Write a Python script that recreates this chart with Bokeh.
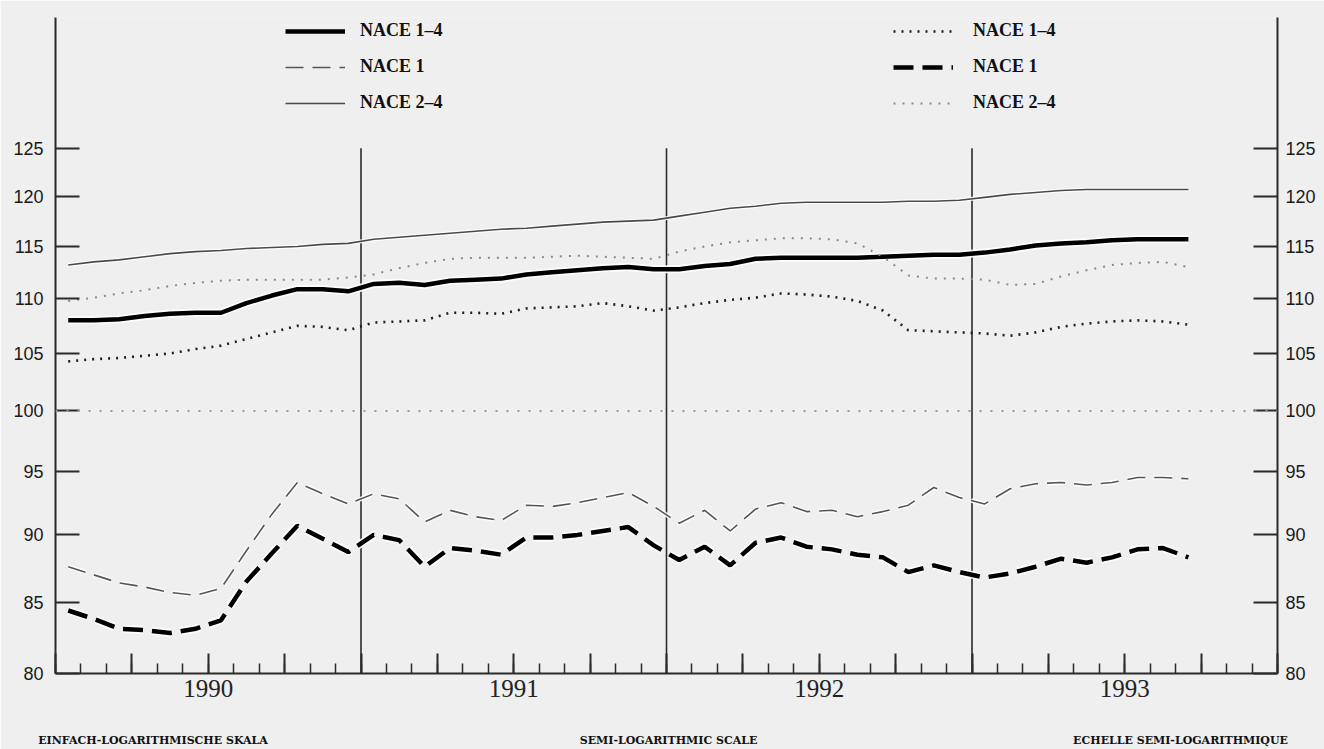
from bokeh.plotting import figure
from bokeh.models import (Range1d, LogAxis, LinearAxis, FixedTicker, Span, Legend, LegendItem)
from bokeh.embed import file_html
from bokeh.resources import INLINE
import numpy as np

# ---------------- data (monthly, Jan 1990 - Sep 1993) ----------------
year_labels = {6: "1990", 18: "1991", 30: "1992", 42: "1993"}
year_bounds = [12, 24, 36]
y_ticks = [80, 85, 90, 95, 100, 105, 110, 115, 120, 125]
captions = ["EINFACH-LOGARITHMISCHE SKALA", "SEMI-LOGARITHMIC SCALE", "ECHELLE SEMI-LOGARITHMIQUE"]
caption_pos = [3.83, 24.08, 44.19]   # caption centres, in months

# left-legend series
nace14_left = [108.0, 108.0, 108.1, 108.4, 108.6, 108.7, 108.7, 109.6, 110.3, 110.9, 110.9, 110.7,
               111.4, 111.5, 111.3, 111.7, 111.8, 111.9, 112.3, 112.5, 112.7, 112.9, 113.0, 112.8,
               112.8, 113.1, 113.3, 113.8, 113.9, 113.9, 113.9, 113.9, 114.0, 114.1, 114.2, 114.2,
               114.4, 114.7, 115.1, 115.3, 115.4, 115.6, 115.7, 115.7, 115.7]
nace1_left = [87.6, 87.0, 86.4, 86.1, 85.7, 85.5, 86.0, 88.8, 91.6, 94.1, 93.2, 92.4,
              93.2, 92.8, 91.0, 91.9, 91.4, 91.1, 92.3, 92.2, 92.5, 92.9, 93.3, 92.2,
              90.9, 91.9, 90.3, 92.0, 92.5, 91.8, 91.9, 91.4, 91.8, 92.3, 93.7, 92.9,
              92.4, 93.6, 94.0, 94.1, 93.9, 94.1, 94.5, 94.5, 94.4]
nace24_left = [113.2, 113.5, 113.7, 114.0, 114.3, 114.5, 114.6, 114.8, 114.9, 115.0, 115.2, 115.3,
               115.7, 115.9, 116.1, 116.3, 116.5, 116.7, 116.8, 117.0, 117.2, 117.4, 117.5, 117.6,
               118.0, 118.4, 118.8, 119.0, 119.3, 119.4, 119.4, 119.4, 119.4, 119.5, 119.5, 119.6,
               119.9, 120.2, 120.4, 120.6, 120.7, 120.7, 120.7, 120.7, 120.7]
# right-legend series
nace14_right = [104.3, 104.5, 104.6, 104.8, 105.0, 105.4, 105.7, 106.3, 106.9, 107.5, 107.4, 107.1,
                107.8, 107.9, 108.0, 108.7, 108.7, 108.6, 109.1, 109.2, 109.3, 109.6, 109.3, 108.9,
                109.2, 109.6, 109.9, 110.1, 110.5, 110.4, 110.2, 109.8, 108.9, 107.1, 107.0, 106.9,
                106.8, 106.6, 106.9, 107.4, 107.7, 107.9, 108.0, 107.9, 107.6]
nace1_right = [84.4, 83.8, 83.1, 83.0, 82.8, 83.1, 83.7, 86.5, 88.6, 90.7, 89.7, 88.7,
               90.0, 89.6, 87.6, 89.0, 88.8, 88.5, 89.8, 89.8, 90.0, 90.3, 90.6, 89.2,
               88.1, 89.1, 87.7, 89.4, 89.8, 89.1, 88.9, 88.5, 88.3, 87.2, 87.7, 87.2,
               86.8, 87.1, 87.6, 88.2, 87.9, 88.3, 88.9, 89.0, 88.3]
nace24_right = [109.8, 110.1, 110.5, 110.8, 111.2, 111.5, 111.7, 111.8, 111.8, 111.8, 111.8, 112.0,
                112.3, 112.9, 113.4, 113.8, 113.9, 113.9, 113.9, 114.0, 114.1, 114.0, 113.9, 113.8,
                114.5, 115.0, 115.4, 115.6, 115.8, 115.8, 115.7, 115.3, 114.0, 112.2, 111.9, 111.9,
                111.8, 111.3, 111.4, 112.1, 112.7, 113.2, 113.4, 113.5, 113.0]

months = np.arange(len(nace14_left)) + 0.5   # mid-month positions, months since Jan 1990

BG = "#efefef"
AX = "#2a2a2a"

p = figure(width=1324, height=749, y_axis_type="log",
           x_range=Range1d(0, 48), y_range=Range1d(80, 139.7),
           output_backend="svg", toolbar_location=None,
           min_border_left=55, min_border_right=47, min_border_top=17, min_border_bottom=76,
           background_fill_color=BG, border_fill_color=BG, outline_line_color=None)
p.xgrid.visible = False
p.ygrid.visible = False

# ---- axes ----
xa = p.xaxis[0]
xa.ticker = FixedTicker(ticks=list(range(0, 49, 3)), minor_ticks=list(range(0, 49)))
xa.major_label_overrides = {t: year_labels.get(t, "") for t in range(0, 49, 3)}
xa.major_tick_in = 20
xa.major_tick_out = 0
xa.minor_tick_in = 10
xa.minor_tick_out = 0
xa.axis_line_width = 2
xa.axis_line_color = AX
xa.major_tick_line_color = AX
xa.minor_tick_line_color = AX
xa.major_tick_line_width = 2
xa.minor_tick_line_width = 1.5
xa.major_label_text_font = "Liberation Serif"
xa.major_label_text_font_size = "25px"
xa.major_label_text_color = "#222"
xa.major_label_standoff = 6

# caption "axis" (labels only) below the year axis
ca = LinearAxis(ticker=FixedTicker(ticks=caption_pos),
                major_label_overrides={pos: txt for pos, txt in zip(caption_pos, captions)},
                axis_line_color=None, major_tick_line_color=None, minor_tick_line_color=None,
                major_label_standoff=28,
                major_label_text_font="DejaVu Serif", major_label_text_font_style="bold",
                major_label_text_font_size="11px", major_label_text_color="#111")
p.add_layout(ca, "below")

def style_y(ax, standoff):
    ax.ticker = FixedTicker(ticks=y_ticks)
    ax.minor_tick_line_color = None
    ax.major_tick_in = 24
    ax.major_tick_out = 0
    ax.axis_line_color = AX
    ax.axis_line_width = 2
    ax.major_tick_line_color = AX
    ax.major_tick_line_width = 2
    ax.major_label_text_font = "Liberation Sans"
    ax.major_label_text_font_size = "18px"
    ax.major_label_text_color = "#1a1a1a"
    ax.major_label_standoff = standoff

style_y(p.yaxis[0], 12)
ra = LogAxis()
style_y(ra, 8)
p.add_layout(ra, "right")

# ---- reference line at 100 and year boundaries ----
p.add_layout(Span(location=100, dimension="width", line_color="#9a9a9a",
                  line_width=2, line_dash="2 9"))
p.segment(x0=year_bounds, x1=year_bounds, y0=[80] * 3, y1=[125] * 3,
          line_color=AX, line_width=1.6)

# ---- white halos (scan look) ----
for ys, w, dash in [(nace24_left, 4, "solid"), (nace14_left, 8, "solid"),
                    (nace1_left, 4.5, "18 9"), (nace1_right, 8, "20 9")]:
    p.line(months, ys, line_color="white", line_width=w, line_dash=dash, line_alpha=0.9)

# ---- series ----
r_a = p.line(months, nace14_left, line_color="#000000", line_width=4.5, line_join="round")
r_b = p.line(months, nace1_left, line_color="#555555", line_width=1.6, line_dash="18 9")
r_c = p.line(months, nace24_left, line_color="#4a4a4a", line_width=1.6)
r_d = p.line(months, nace14_right, line_color="#1e1e1e", line_width=2.6, line_dash="2 6")
r_e = p.line(months, nace1_right, line_color="#000000", line_width=4.5, line_dash="20 9")
r_f = p.line(months, nace24_right, line_color="#8a8a8a", line_width=2, line_dash="2 7")

def mk_legend(items, loc, standoff):
    return Legend(items=items, location=loc, orientation="vertical",
                  background_fill_alpha=0, border_line_color=None,
                  glyph_width=60, glyph_height=20, label_height=20,
                  spacing=15, padding=0, margin=0, label_standoff=standoff,
                  label_text_font="Liberation Serif", label_text_font_style="bold",
                  label_text_font_size="18px", label_text_color="#111")

p.add_layout(mk_legend([LegendItem(label="NACE 1–4", renderers=[r_a]),
                        LegendItem(label="NACE 1", renderers=[r_b]),
                        LegendItem(label="NACE 2–4", renderers=[r_c])],
                       (230, 560), 15), "center")
p.add_layout(mk_legend([LegendItem(label="NACE 1–4", renderers=[r_d]),
                        LegendItem(label="NACE 1", renderers=[r_e]),
                        LegendItem(label="NACE 2–4", renderers=[r_f])],
                       (838, 560), 20), "center")

open("out.html", "w").write(file_html(p, INLINE))
